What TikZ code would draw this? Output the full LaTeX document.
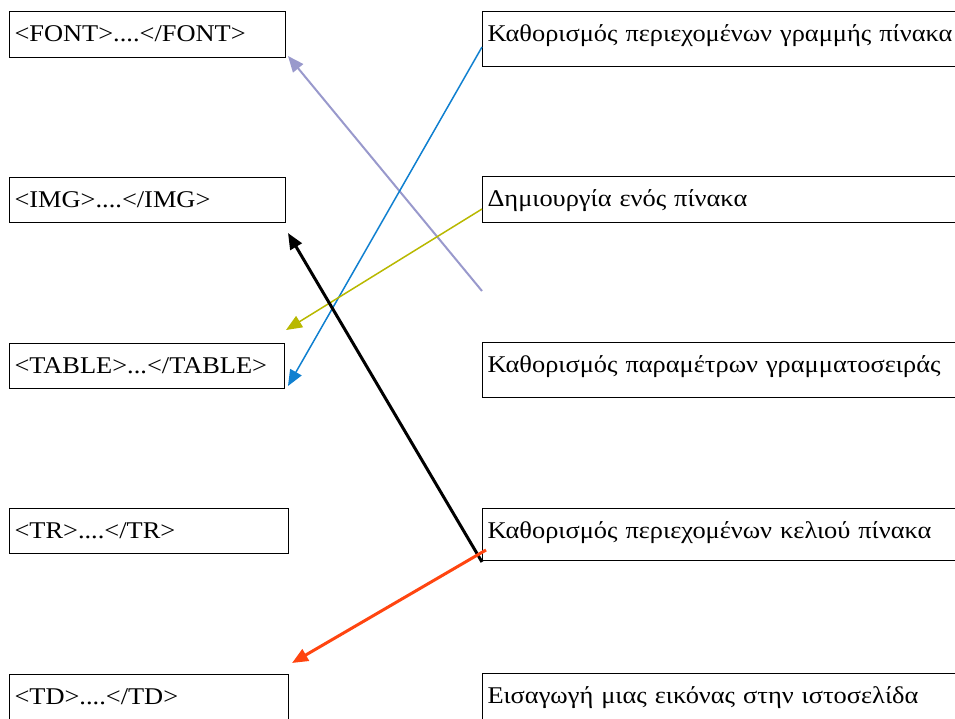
\documentclass[tikz,border=0pt]{standalone}
\usepackage{fontspec}
\setmainfont[FakeStretch=1.1]{Liberation Serif}
\usetikzlibrary{arrows.meta}
\definecolor{lavend}{RGB}{153,153,204}
\definecolor{skyline}{RGB}{16,128,208}
\definecolor{olive}{RGB}{184,184,0}
\definecolor{redorange}{RGB}{255,69,16}
\begin{document}
\begin{tikzpicture}[x=1pt, y=-1pt,
  tagbox/.style={draw, line width=1pt, anchor=north west, inner xsep=5pt, inner ysep=0pt,
    align=left, text height=29.5pt, font=\fontsize{24}{28}\selectfont},
  descbox/.style={tagbox, text width=600pt},
  link/.style={-{Triangle[length=16pt, width=13pt]}}]

\useasboundingbox (0,0) rectangle (955,718);

\node[tagbox, text width=266pt, text depth=16.5pt] (font) at (9,11) {<FONT>....</FONT>};
\node[tagbox, text width=266pt, text depth=15.5pt] (img) at (9,177) {<IMG>....</IMG>};
\node[tagbox, text width=265pt, text depth=15.5pt] (table) at (9,343) {<TABLE>...</TABLE>};
\node[tagbox, text width=269pt, text depth=15.5pt] (tr) at (9,508) {<TR>....</TR>};
\node[tagbox, text width=269pt, text depth=40pt] (td) at (9,674) {<TD>....</TD>};

\node[descbox, text depth=25.5pt] (rowdef) at (482,11) {Καθορισμός περιεχομένων γραμμής πίνακα};
\node[descbox, text depth=16.5pt] (newtable) at (482,176) {Δημιουργία ενός πίνακα};
\node[descbox, text depth=25.5pt] (fontpar) at (482,342) {Καθορισμός παραμέτρων γραμματοσειράς};
\node[descbox, text depth=22.5pt] (celldef) at (482,508) {Καθορισμός περιεχομένων κελιού πίνακα};
\node[descbox, text depth=40pt] (image) at (482,673) {Εισαγωγή μιας εικόνας στην ιστοσελίδα};

\draw[link, lavend, line width=2pt] ([yshift=-68pt]newtable.south west) -- ([xshift=2pt, yshift=2pt]font.south east);
\draw[link, skyline, line width=1.5pt] ([yshift=-36pt]rowdef.north west) -- ([xshift=3pt, yshift=3pt]table.south east);
\draw[link, olive, line width=1.5pt] ([yshift=-33pt]newtable.north west) -- ([xshift=1pt, yshift=13pt]table.north east);
\draw[link, black, line width=3pt] ([yshift=-1pt]celldef.south west) -- ([xshift=2pt, yshift=-10pt]img.south east);
\draw[link, redorange, line width=3pt] ([xshift=4pt, yshift=11pt]celldef.south west) -- ([xshift=3pt, yshift=11pt]td.north east);

\end{tikzpicture}
\end{document}
